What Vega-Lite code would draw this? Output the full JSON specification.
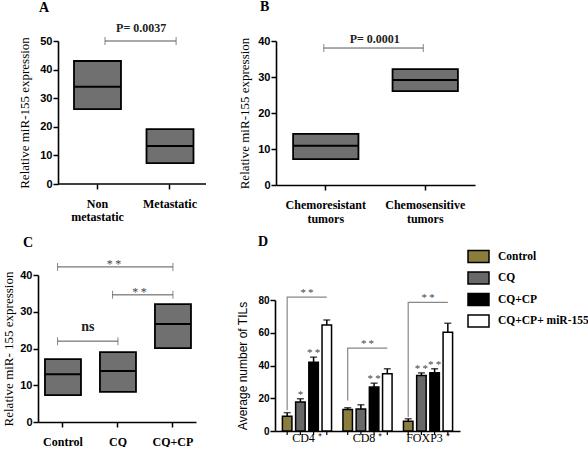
{
  "$schema": "https://vega.github.io/schema/vega-lite/v6.json",
  "padding": {"left": 2, "top": 0, "right": 0, "bottom": 0},
  "config": {
    "view": {"stroke": null},
    "axis": {"grid": false, "domainColor": "black", "domainWidth": 1.6, "tickColor": "black", "tickWidth": 1.5, "tickSize": 5, "labelColor": "black", "titleColor": "black", "labelFont": "Liberation Sans", "labelFontWeight": "bold", "labelFontSize": 11, "labelPadding": 1},
    "axisX": {"labelFont": "Liberation Serif", "labelFontSize": 12, "labelAngle": 0, "labelPadding": 5},
    "axisY": {"titleFont": "Liberation Serif", "titleFontWeight": "normal", "titleFontSize": 13},
    "title": {"font": "Liberation Serif", "fontSize": 14, "fontWeight": "bold", "color": "black", "anchor": "start", "frame": "group"}
  },
  "resolve": {"scale": {"fill": "independent"}, "legend": {"fill": "independent"}},
  "spacing": 11,
  "vconcat": [
    {
      "spacing": 31,
      "resolve": {"scale": {"fill": "independent"}, "legend": {"fill": "independent"}},
      "hconcat": [
        {
          "width": 168, "height": 143,
          "title": {"text": "A", "dx": 1, "offset": 7},
          "resolve": {"axis": {"x": "independent", "y": "independent"}},
          "layer": [
            {
              "data": {"name": "boxA", "values": [
                {"cat": "Non metastatic", "lo": 26.2, "med": 34, "hi": 43},
                {"cat": "Metastatic", "lo": 7.3, "med": 13.3, "hi": 19.2}
              ]},
              "mark": {"type": "rect", "fill": "#707070", "stroke": "black", "strokeWidth": 1.8},
              "encoding": {
                "x": {"field": "cat", "type": "nominal", "scale": {"domain": ["Non metastatic", "Metastatic"], "paddingInner": 0.352, "paddingOuter": 0.3345, "align": 0.742}, "axis": {"title": null, "domain": false, "ticks": true, "tickSize": 5, "labelExpr": "datum.label == 'Non metastatic' ? ['Non', 'metastatic'] : [datum.label, '']", "labelLineHeight": 13, "labelFontWeight": "bold", "labelPadding": 9}},
                "y": {"field": "lo", "type": "quantitative", "scale": {"domain": [0, 50]}, "axis": {"values": [0, 10, 20, 30, 40, 50], "title": "Relative  miR-155 expression", "titlePadding": 8, "offset": -20}},
                "y2": {"field": "hi"}
              }
            },
            {
              "data": {"name": "boxA"},
              "mark": {"type": "rect", "stroke": "black", "strokeWidth": 2, "fill": null},
              "encoding": {
                "x": {"field": "cat", "type": "nominal", "axis": null},
                "y": {"field": "med", "type": "quantitative", "axis": null},
                "y2": {"field": "med"}
              }
            },
            {
              "data": {"values": [{}]},
              "mark": {"type": "rule", "color": "black", "strokeWidth": 1.6},
              "encoding": {
                "x": {"datum": "Non metastatic", "type": "nominal", "bandPosition": -0.34, "axis": null},
                "x2": {"datum": "Metastatic", "bandPosition": 1.266},
                "y": {"datum": 0, "type": "quantitative", "axis": null}
              }
            },
            {
              "data": {"name": "brA", "values": [{"from": "Non metastatic", "to": "Metastatic", "y": 50, "label": "P= 0.0037"}]},
              "mark": {"type": "rule", "color": "#555", "strokeWidth": 1},
              "encoding": {
                "x": {"field": "from", "type": "nominal", "bandPosition": 0.66, "axis": null},
                "x2": {"field": "to", "bandPosition": 0.63},
                "y": {"field": "y", "type": "quantitative", "axis": null}
              }
            },
            {
              "data": {"name": "brA"},
              "mark": {"type": "tick", "orient": "vertical", "size": 8, "thickness": 1, "color": "#555"},
              "encoding": {
                "x": {"field": "from", "type": "nominal", "bandPosition": 0.66, "axis": null},
                "y": {"field": "y", "type": "quantitative", "axis": null}
              }
            },
            {
              "data": {"name": "brA"},
              "mark": {"type": "tick", "orient": "vertical", "size": 8, "thickness": 1, "color": "#555"},
              "encoding": {
                "x": {"field": "to", "type": "nominal", "bandPosition": 0.63, "axis": null},
                "y": {"field": "y", "type": "quantitative", "axis": null}
              }
            },
            {
              "data": {"name": "brA"},
              "mark": {"type": "text", "font": "Liberation Serif", "fontWeight": "bold", "fontSize": 12, "baseline": "middle", "dy": -13, "color": "#222"},
              "encoding": {
                "x": {"field": "from", "type": "nominal", "bandPosition": 1.43, "axis": null},
                "y": {"field": "y", "type": "quantitative", "axis": null},
                "text": {"field": "label"}
              }
            }
          ]
        },
        {
          "width": 199, "height": 144,
          "title": {"text": "B", "dx": -16, "offset": 19},
          "resolve": {"axis": {"x": "independent", "y": "independent"}},
          "layer": [
            {
              "data": {"name": "boxB", "values": [
                {"cat": "Chemoresistant tumors", "lo": 7.2, "med": 10.9, "hi": 14.2},
                {"cat": "Chemosensitive tumors", "lo": 26.1, "med": 29.2, "hi": 32.2}
              ]},
              "mark": {"type": "rect", "fill": "#707070", "stroke": "black", "strokeWidth": 1.8},
              "encoding": {
                "x": {"field": "cat", "type": "nominal", "scale": {"domain": ["Chemoresistant tumors", "Chemosensitive tumors"], "paddingInner": 0.343, "paddingOuter": 0.172}, "axis": {"title": null, "labelExpr": "split(datum.label, ' ')", "labelLineHeight": 14, "labelFontWeight": "bold", "labelPadding": 9}},
                "y": {"field": "lo", "type": "quantitative", "scale": {"domain": [0, 40]}, "axis": {"values": [0, 10, 20, 30, 40], "title": "Relative  miR-155 expression", "titlePadding": 6}},
                "y2": {"field": "hi"}
              }
            },
            {
              "data": {"name": "boxB"},
              "mark": {"type": "rect", "stroke": "black", "strokeWidth": 2, "fill": null},
              "encoding": {
                "x": {"field": "cat", "type": "nominal", "axis": null},
                "y": {"field": "med", "type": "quantitative", "axis": null},
                "y2": {"field": "med"}
              }
            },
            {
              "data": {"name": "brB", "values": [{"from": "Chemoresistant tumors", "to": "Chemosensitive tumors", "y": 38.05, "label": "P= 0.0001"}]},
              "mark": {"type": "rule", "color": "#555", "strokeWidth": 1},
              "encoding": {
                "x": {"field": "from", "type": "nominal", "bandPosition": 0.47, "axis": null},
                "x2": {"field": "to", "bandPosition": 0.47},
                "y": {"field": "y", "type": "quantitative", "axis": null}
              }
            },
            {
              "data": {"name": "brB"},
              "mark": {"type": "tick", "orient": "vertical", "size": 8, "thickness": 1, "color": "#555"},
              "encoding": {
                "x": {"field": "from", "type": "nominal", "bandPosition": 0.47, "axis": null},
                "y": {"field": "y", "type": "quantitative", "axis": null}
              }
            },
            {
              "data": {"name": "brB"},
              "mark": {"type": "tick", "orient": "vertical", "size": 8, "thickness": 1, "color": "#555"},
              "encoding": {
                "x": {"field": "to", "type": "nominal", "bandPosition": 0.47, "axis": null},
                "y": {"field": "y", "type": "quantitative", "axis": null}
              }
            },
            {
              "data": {"name": "brB"},
              "mark": {"type": "text", "font": "Liberation Serif", "fontWeight": "bold", "fontSize": 12, "baseline": "middle", "dy": -9, "color": "#222"},
              "encoding": {
                "x": {"field": "from", "type": "nominal", "bandPosition": 1.25, "axis": null},
                "y": {"field": "y", "type": "quantitative", "axis": null},
                "text": {"field": "label"}
              }
            }
          ]
        }
      ]
    },
    {
      "spacing": 40,
      "resolve": {"scale": {"fill": "independent"}, "legend": {"fill": "independent"}},
      "hconcat": [
        {
          "width": 158, "height": 147,
          "title": {"text": "C", "dx": -15, "offset": 8},
          "resolve": {"axis": {"x": "independent", "y": "independent"}},
          "layer": [
            {
              "data": {"name": "boxC", "values": [
                {"cat": "Control", "lo": 7.3, "med": 13.0, "hi": 17.1},
                {"cat": "CQ", "lo": 8.2, "med": 13.9, "hi": 19.0},
                {"cat": "CQ+CP", "lo": 20.1, "med": 26.7, "hi": 32.1}
              ]},
              "mark": {"type": "rect", "fill": "#707070", "stroke": "black", "strokeWidth": 1.8},
              "encoding": {
                "x": {"field": "cat", "type": "nominal", "scale": {"domain": ["Control", "CQ", "CQ+CP"], "paddingInner": 0.345, "paddingOuter": 0.109, "align": 0.58}, "axis": {"title": null, "labelFontWeight": "bold", "labelPadding": 9}},
                "y": {"field": "lo", "type": "quantitative", "scale": {"domain": [0, 40]}, "axis": {"values": [0, 10, 20, 30, 40], "title": "Relative  miR- 155 expression", "titlePadding": 4}},
                "y2": {"field": "hi"}
              }
            },
            {
              "data": {"name": "boxC"},
              "mark": {"type": "rect", "stroke": "black", "strokeWidth": 2, "fill": null},
              "encoding": {
                "x": {"field": "cat", "type": "nominal", "axis": null},
                "y": {"field": "med", "type": "quantitative", "axis": null},
                "y2": {"field": "med"}
              }
            },
            {
              "data": {"name": "brC", "values": [
                {"from": "Control", "to": "CQ+CP", "y": 42.2},
                {"from": "CQ", "to": "CQ+CP", "y": 34.6},
                {"from": "Control", "to": "CQ", "y": 22.0}
              ]},
              "mark": {"type": "rule", "color": "#555", "strokeWidth": 1},
              "encoding": {
                "x": {"field": "from", "type": "nominal", "bandPosition": 0.35, "axis": null},
                "x2": {"field": "to", "bandPosition": 0.5},
                "y": {"field": "y", "type": "quantitative", "axis": null}
              }
            },
            {
              "data": {"name": "brC"},
              "mark": {"type": "tick", "orient": "vertical", "size": 8, "thickness": 1, "color": "#555"},
              "encoding": {
                "x": {"field": "from", "type": "nominal", "bandPosition": 0.35, "axis": null},
                "y": {"field": "y", "type": "quantitative", "axis": null}
              }
            },
            {
              "data": {"name": "brC"},
              "mark": {"type": "tick", "orient": "vertical", "size": 8, "thickness": 1, "color": "#555"},
              "encoding": {
                "x": {"field": "to", "type": "nominal", "bandPosition": 0.5, "axis": null},
                "y": {"field": "y", "type": "quantitative", "axis": null}
              }
            },
            {
              "data": {"values": [{"at": "CQ", "y": 42.2, "label": "*\u2009*"}]},
              "mark": {"type": "text", "font": "Liberation Serif", "fontSize": 12, "baseline": "alphabetic", "dy": 1, "color": "#444"},
              "encoding": {
                "x": {"field": "at", "type": "nominal", "bandPosition": 0.39, "axis": null},
                "y": {"field": "y", "type": "quantitative", "axis": null},
                "text": {"field": "label"}
              }
            },
            {
              "data": {"values": [{"at": "CQ", "y": 34.6, "label": "*\u2009*"}]},
              "mark": {"type": "text", "font": "Liberation Serif", "fontSize": 12, "baseline": "alphabetic", "dy": 1, "color": "#444"},
              "encoding": {
                "x": {"field": "at", "type": "nominal", "bandPosition": 1.1, "axis": null},
                "y": {"field": "y", "type": "quantitative", "axis": null},
                "text": {"field": "label"}
              }
            },
            {
              "data": {"values": [{"at": "Control", "y": 22.0, "label": "ns"}]},
              "mark": {"type": "text", "font": "Liberation Serif", "fontSize": 14, "fontWeight": "bold", "baseline": "alphabetic", "dy": -10, "color": "#222"},
              "encoding": {
                "x": {"field": "at", "type": "nominal", "bandPosition": 1.19, "axis": null},
                "y": {"field": "y", "type": "quantitative", "axis": null},
                "text": {"field": "label"}
              }
            }
          ]
        },
        {
          "width": 185, "height": 156,
          "title": {"text": "D", "dx": -17, "offset": -4},
          "resolve": {"axis": {"x": "independent", "y": "independent"}},
          "layer": [
            {
              "data": {"name": "bars", "values": [
                {"grp": "CD4", "trt": "Control", "v": 9.0, "hi": 11.2, "sig": ""},
                {"grp": "CD4", "trt": "CQ", "v": 17.7, "hi": 19.7, "sig": "*"},
                {"grp": "CD4", "trt": "CQ+CP", "v": 42.0, "hi": 45.1, "sig": "*\u2009*"},
                {"grp": "CD4", "trt": "CQ+CP+ miR-155", "v": 64.8, "hi": 67.8, "sig": ""},
                {"grp": "CD8", "trt": "Control", "v": 13.2, "hi": 14.2, "sig": ""},
                {"grp": "CD8", "trt": "CQ", "v": 13.4, "hi": 16.0, "sig": ""},
                {"grp": "CD8", "trt": "CQ+CP", "v": 26.8, "hi": 29.2, "sig": "*\u2009*"},
                {"grp": "CD8", "trt": "CQ+CP+ miR-155", "v": 34.9, "hi": 38.0, "sig": ""},
                {"grp": "FOXP3", "trt": "Control", "v": 5.9, "hi": 7.5, "sig": ""},
                {"grp": "FOXP3", "trt": "CQ", "v": 33.9, "hi": 35.5, "sig": "*\u2009*"},
                {"grp": "FOXP3", "trt": "CQ+CP", "v": 35.5, "hi": 38.0, "sig": "*\u2009*"},
                {"grp": "FOXP3", "trt": "CQ+CP+ miR-155", "v": 60.3, "hi": 65.8, "sig": ""}
              ]},
              "mark": {"type": "bar", "stroke": "black", "strokeWidth": 1.5},
              "encoding": {
                "x": {"field": "grp", "type": "nominal", "scale": {"domain": ["CD4", "CD8", "FOXP3"], "paddingInner": 0.127, "paddingOuter": 0.092}, "axis": {"title": null, "ticks": false, "labelExpr": "datum.label + ' \u207a'", "labelFontWeight": "normal", "labelFontSize": 12, "labelPadding": 1}},
                "xOffset": {"field": "trt", "type": "nominal", "scale": {"domain": ["Control", "CQ", "CQ+CP", "CQ+CP+ miR-155"], "paddingInner": 0.28, "paddingOuter": 0.14}},
                "y": {"field": "v", "type": "quantitative", "scale": {"domain": [0, 80], "range": [156, 25]}, "axis": {"values": [0, 20, 40, 60, 80], "title": "Average number of TILs", "titleFont": "Liberation Sans", "titleFontSize": 12, "titlePadding": 8, "labelFontSize": 10}},
                "fill": {"field": "trt", "type": "nominal", "scale": {"domain": ["Control", "CQ", "CQ+CP", "CQ+CP+ miR-155"], "range": ["#8a7d3e", "#686868", "#000000", "#ffffff"]}, "legend": {"orient": "none", "legendX": 192, "legendY": -30, "title": null, "padding": 0, "symbolType": "M-1,-0.57H1V0.57H-1Z", "symbolSize": 441, "symbolStrokeColor": "black", "symbolStrokeWidth": 1.5, "symbolOpacity": 1, "labelFont": "Liberation Serif", "labelFontWeight": "bold", "labelFontSize": 11.5, "labelColor": "black", "labelOffset": 8, "rowPadding": 0.5, "labelExpr": "datum.label == 'CQ' ? '\u00a0\u00a0CQ' : datum.label"}}
              }
            },
            {
              "data": {"name": "bars"},
              "mark": {"type": "rule", "color": "black", "strokeWidth": 1.5},
              "encoding": {
                "x": {"field": "grp", "type": "nominal", "axis": null},
                "xOffset": {"field": "trt", "type": "nominal"},
                "y": {"field": "v", "type": "quantitative", "axis": null},
                "y2": {"field": "hi"}
              }
            },
            {
              "data": {"name": "bars"},
              "mark": {"type": "tick", "orient": "horizontal", "size": 7, "thickness": 1.5, "color": "black"},
              "encoding": {
                "x": {"field": "grp", "type": "nominal", "axis": null},
                "xOffset": {"field": "trt", "type": "nominal"},
                "y": {"field": "hi", "type": "quantitative", "axis": null}
              }
            },
            {
              "data": {"name": "bars"},
              "mark": {"type": "rule", "color": "black", "strokeWidth": 1.2},
              "encoding": {
                "x": {"field": "grp", "type": "nominal", "axis": null},
                "xOffset": {"field": "trt", "type": "nominal"},
                "y": {"datum": 0, "type": "quantitative", "axis": null},
                "y2": {"datum": -2.5}
              }
            },
            {
              "data": {"name": "bars"},
              "mark": {"type": "text", "font": "Liberation Serif", "fontSize": 11, "baseline": "alphabetic", "dy": -1, "color": "#444"},
              "encoding": {
                "x": {"field": "grp", "type": "nominal", "axis": null},
                "xOffset": {"field": "trt", "type": "nominal"},
                "y": {"field": "hi", "type": "quantitative", "axis": null},
                "text": {"field": "sig"}
              }
            },
            {
              "data": {"values": [
                {"grp": "CD4", "trt": "Control", "y": 12.6, "o": 1},
                {"grp": "CD4", "trt": "Control", "y": 81.7, "o": 2},
                {"grp": "CD4", "trt": "CQ+CP+ miR-155", "y": 81.7, "o": 3},
                {"grp": "CD8", "trt": "Control", "y": 18.7, "o": 1},
                {"grp": "CD8", "trt": "Control", "y": 50.6, "o": 2},
                {"grp": "CD8", "trt": "CQ+CP+ miR-155", "y": 50.6, "o": 3},
                {"grp": "FOXP3", "trt": "Control", "y": 8.5, "o": 1},
                {"grp": "FOXP3", "trt": "Control", "y": 78.6, "o": 2},
                {"grp": "FOXP3", "trt": "CQ+CP+ miR-155", "y": 78.6, "o": 3}
              ]},
              "mark": {"type": "line", "color": "#888", "strokeWidth": 1.2},
              "encoding": {
                "x": {"field": "grp", "type": "nominal", "axis": null},
                "xOffset": {"field": "trt", "type": "nominal"},
                "y": {"field": "y", "type": "quantitative", "axis": null},
                "detail": {"field": "grp"},
                "order": {"field": "o"}
              }
            },
            {
              "data": {"values": [
                {"grp": "CD4", "y": 81.7, "sig": "*\u2009*"},
                {"grp": "CD8", "y": 50.6, "sig": "*\u2009*"},
                {"grp": "FOXP3", "y": 78.6, "sig": "*\u2009*"}
              ]},
              "mark": {"type": "text", "font": "Liberation Serif", "fontSize": 11, "baseline": "alphabetic", "dy": -1, "color": "#444"},
              "encoding": {
                "x": {"field": "grp", "type": "nominal", "axis": null},
                "y": {"field": "y", "type": "quantitative", "axis": null},
                "text": {"field": "sig"}
              }
            }
          ]
        }
      ]
    }
  ]
}
